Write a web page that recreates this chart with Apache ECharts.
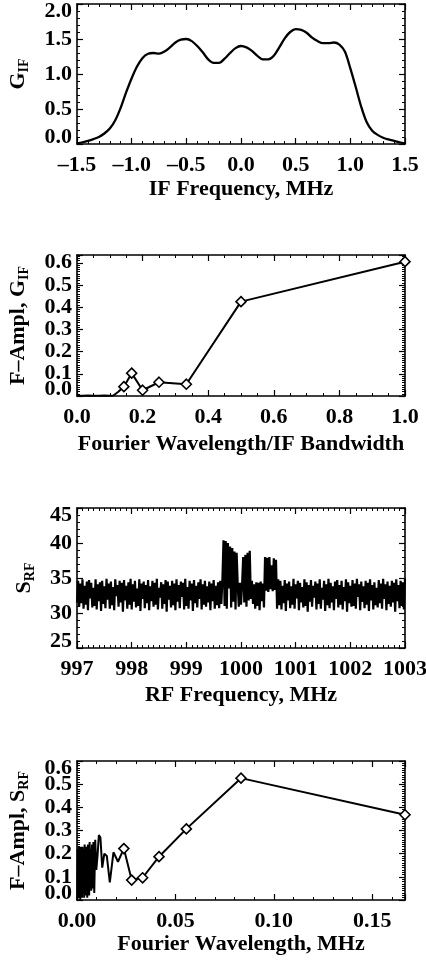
<!DOCTYPE html>
<html>
<head>
<meta charset="utf-8">
<script src="https://cdn.jsdelivr.net/npm/echarts@6/dist/echarts.min.js"></script>
<style>
html, body { margin: 0; padding: 0; background: #fff; }
#chart { width: 426px; height: 961px; }
</style>
</head>
<body>
<div id="chart"></div>
<script>
// panel 1 - IF gain, sampled every 0.05 MHz from -1.5
var ifStart = -1.5, ifStep = 0.05;
var ifGain = [
    0.01, 0.025, 0.045, 0.07, 0.10, 0.15, 0.22, 0.34, 0.52, 0.74,
    0.94, 1.11, 1.23, 1.29, 1.30, 1.29, 1.32, 1.38, 1.45, 1.49,
    1.50, 1.47, 1.40, 1.31, 1.21, 1.16, 1.16, 1.22, 1.30, 1.37,
    1.40, 1.38, 1.33, 1.26, 1.21, 1.21, 1.26, 1.38, 1.51, 1.60,
    1.64, 1.63, 1.59, 1.52, 1.47, 1.44, 1.44, 1.45, 1.42, 1.32,
    1.08, 0.81, 0.53, 0.31, 0.19, 0.13, 0.09, 0.065, 0.045, 0.025,
    0.01
];

// panel 2 - Fourier amplitude of G_IF (first points get diamonds)
var ifWave = [1, 0.5, 0.3333, 0.25, 0.2, 0.1667, 0.1429, 0.125, 0.1111, 0.1, 0.0833, 0.0667, 0.05, 0.0333, 0.0167, 0];
var ifAmp = [0.605, 0.425, 0.053, 0.062, 0.026, 0.103, 0.042, 0.018, 0.002, 0.001, 0.002, 0.001, 0.001, 0.002, 0.001, 0.001];
var ifMarked = 7;

// panel 3 - RF spectrum, sampled every 0.02 MHz from 997
var rfStart = 997, rfStep = 0.02;
var rfSpec = [
    31.5, 34.6, 30.9, 34.2, 31.4, 34.8, 30.6, 33.9, 31.2, 34.5,
    30.4, 34.7, 32.1, 34.3, 30.8, 33.6, 31.0, 34.8, 30.5, 34.1,
    31.7, 34.4, 30.3, 34.6, 31.3, 33.8, 30.7, 34.9, 31.9, 34.2,
    30.6, 34.5, 31.1, 33.7, 30.4, 34.8, 32.4, 34.0, 30.9, 34.6,
    31.5, 34.3, 30.2, 34.7, 31.8, 33.9, 30.6, 34.4, 31.2, 34.9,
    30.5, 34.1, 31.6, 34.6, 30.8, 33.5, 31.0, 34.8, 30.3, 34.2,
    32.0, 34.5, 30.7, 34.0, 31.4, 34.7, 30.4, 33.8, 31.7, 34.6,
    30.9, 34.3, 31.2, 34.9, 30.5, 33.6, 32.2, 34.4, 30.6, 34.1,
    31.3, 34.7, 30.2, 34.5, 31.9, 33.9, 30.8, 34.6, 31.1, 34.2,
    30.4, 34.8, 31.6, 34.0, 30.7, 34.5, 32.3, 34.3, 30.5, 34.9,
    31.0, 33.7, 30.6, 34.6, 31.8, 34.2, 30.3, 34.7, 31.4, 33.9,
    30.8, 34.4, 32.0, 34.8, 30.5, 34.1, 31.2, 34.6, 30.9, 33.8,
    31.5, 34.5, 30.4, 34.2, 31.7, 34.7, 30.6, 33.9, 31.1, 34.4,
    30.7, 34.6, 31.3, 34.8, 40.4, 31.0, 40.3, 30.6, 40.0, 33.5,
    39.5, 30.8, 39.3, 31.6, 38.8, 30.5, 38.6, 34.0, 30.9, 34.3,
    31.2, 34.1, 38.0, 31.5, 38.3, 30.9, 38.6, 31.8, 38.9, 32.0,
    34.6, 31.3, 34.1, 30.6, 34.4, 31.0, 34.3, 30.4, 34.5, 31.7,
    34.2, 30.8, 38.0, 33.2, 37.9, 33.0, 38.0, 33.4, 36.8, 33.1,
    37.8, 33.3, 37.6, 30.6, 34.8, 31.1, 34.6, 30.5, 33.9, 31.4,
    34.7, 30.3, 34.2, 31.8, 34.5, 30.7, 33.8, 31.2, 34.9, 30.6,
    34.1, 32.1, 34.6, 30.4, 34.3, 31.5, 33.7, 30.8, 34.8, 31.0,
    34.4, 30.2, 34.0, 31.6, 34.7, 30.9, 33.9, 32.2, 34.5, 30.5,
    34.2, 31.3, 34.8, 30.6, 33.6, 31.9, 34.6, 30.3, 34.1, 31.1,
    34.9, 30.7, 34.3, 31.5, 33.8, 30.4, 34.5, 32.0, 34.7, 30.8,
    34.0, 31.2, 34.6, 30.5, 33.7, 31.7, 34.8, 30.2, 34.4, 31.4,
    33.9, 30.9, 34.7, 31.0, 34.2, 30.6, 34.9, 32.3, 34.1, 30.4,
    34.5, 31.6, 33.8, 30.7, 34.6, 31.2, 34.3, 30.3, 34.8, 31.8,
    34.0, 30.5, 34.4, 31.1, 33.6, 30.8, 34.7, 31.4, 34.2, 30.6,
    34.9, 32.0, 34.1, 30.4, 34.5, 31.3, 33.9, 30.9, 34.6, 31.5,
    34.3, 30.2, 34.8, 31.7, 34.0, 30.7, 34.6, 31.0, 34.4, 30.5,
    34.9
];

// panel 4 - Fourier amplitude of S_RF (first points get diamonds)
var rfWave = [
    0.16667, 0.08333, 0.05556, 0.04167, 0.03333, 0.02778, 0.02381, 0.02083, 0.01852, 0.01667,
    0.01515, 0.01389, 0.01282, 0.01190, 0.01111, 0.01042, 0.00980, 0.00926, 0.00877, 0.00833,
    0.00794, 0.00758, 0.00725, 0.00694, 0.00667, 0.00641, 0.00617, 0.00595, 0.00575, 0.00556,
    0.00521, 0.00490, 0.00463, 0.00439, 0.00417, 0.00388, 0.00362, 0.00333, 0.00303, 0.00278,
    0.00253, 0.00231, 0.00208, 0.00185, 0.00167, 0.00139, 0.00111, 0.00083, 0.00056, 0.00033,
    0.00017
];
var rfAmp = [
    0.368, 0.526, 0.307, 0.187, 0.096, 0.086, 0.222, 0.165, 0.206, 0.076,
    0.19, 0.20, 0.14, 0.27, 0.28, 0.19, 0.13, 0.26, 0.03, 0.25,
    0.05, 0.24, 0.04, 0.22, 0.06, 0.25, 0.02, 0.21, 0.05, 0.24,
    0.01, 0.23, 0.03, 0.20, 0.02, 0.24, 0.01, 0.22, 0.03, 0.23,
    0.01, 0.21, 0.02, 0.23, 0.0, 0.22, 0.01, 0.23, 0.02, 0.22,
    0.0
];
var rfMarked = 7;

var font = { fontFamily: 'Liberation Serif', fontWeight: 'bold', fontSize: 22, color: '#000', lineHeight: 22 };
var rich = {
    m: { fontFamily: 'Liberation Serif', fontWeight: 'bold', fontSize: 22, color: '#000', lineHeight: 24, verticalAlign: 'top' },
    s: { fontFamily: 'Liberation Serif', fontWeight: 'bold', fontSize: 14, color: '#000', lineHeight: 16, verticalAlign: 'bottom', padding: [12, 0, 0, 0] }
};
// edge labels sit inside the frame, like the original plot
var edgeRich = {
    lo: Object.assign({}, font, { padding: [0, 0, 14, 0] }),
    hi: Object.assign({}, font, { padding: [14, 0, 0, 0] })
};

var grids = [
    { left: 77, width: 328, top: 4, height: 140 },
    { left: 77, width: 328, top: 255, height: 141 },
    { left: 77, width: 328, top: 508, height: 140 },
    { left: 77, width: 328, top: 761, height: 139 }
].map(function (g) {
    return Object.assign({ containLabel: false, outerBoundsMode: 'none' }, g);
});

var xAxes = [], yAxes = [];

function box() {
    return { show: true, onZero: false, lineStyle: { color: '#000', width: 1.6 } };
}

function ticks(minor) {
    return {
        axisLine: box(), splitLine: { show: false },
        axisTick: { inside: true, length: 6, lineStyle: { color: '#000', width: 1.2 } },
        minorTick: { show: true, splitNumber: minor, length: 3, lineStyle: { color: '#000', width: 1 } }
    };
}

function addX(g, min, max, step, minor, fmt, name, gap, hideMax) {
    var base = Object.assign({ type: 'value', gridIndex: g, min: min, max: max, interval: step }, ticks(minor));
    xAxes.push(Object.assign({}, base, {
        position: 'bottom', name: name, nameLocation: 'middle', nameGap: gap, nameTextStyle: font,
        axisLabel: Object.assign({ margin: 10, formatter: fmt, showMinLabel: true, showMaxLabel: !hideMax, hideOverlap: false }, font)
    }));
    xAxes.push(Object.assign({}, base, { position: 'top', axisLabel: { show: false } }));
}

function addY(g, min, max, step, minor, fmt, name, gap, edges) {
    var base = Object.assign({ type: 'value', gridIndex: g, min: min, max: max, interval: step }, ticks(minor));
    yAxes.push(Object.assign({}, base, {
        position: 'left', name: name, nameLocation: 'middle', nameGap: gap, nameRotate: 90,
        nameTextStyle: { rich: rich },
        axisLabel: Object.assign({ margin: 5, formatter: fmt, showMinLabel: false, showMaxLabel: false }, font)
    }));
    yAxes.push(Object.assign({}, base, { position: 'right', axisLabel: { show: false } }));
    // label-only axis for the end values
    yAxes.push({
        type: 'value', gridIndex: g, min: min, max: max, interval: step, position: 'left',
        axisLine: { show: false, onZero: false }, axisTick: { show: false }, splitLine: { show: false },
        axisLabel: {
            margin: 5, customValues: edges, rich: edgeRich,
            formatter: function (v) { return (v === min ? '{lo|' : '{hi|') + fmt(v) + '}'; }
        }
    });
}

function f1(v) { return v.toFixed(1).replace('-', '\u2013'); }
function f2(v) { return v.toFixed(2); }
function f0(v) { return v.toFixed(0); }

addX(0, -1.5, 1.5, 0.5, 5, f1, 'IF Frequency, MHz', 34);
addY(0, 0, 2, 0.5, 5, f1, '{m|G}{s|IF}', 46, [0, 2]);
addX(1, 0, 1, 0.2, 4, f1, 'Fourier Wavelength/IF Bandwidth', 37);
addY(1, 0, 0.635, 0.1, 10, f1, '{m|F\u2013Ampl, G}{s|IF}', 46, [0]);
addX(2, 997, 1003, 1, 10, f0, 'RF Frequency, MHz', 36);
addY(2, 25, 45, 5, 5, f0, '{m|S}{s|RF}', 40, [25, 45]);
addX(3, 0, 0.16667, 0.05, 5, f2, 'Fourier Wavelength, MHz', 28, true);
addY(3, 0, 0.6, 0.1, 10, f1, '{m|F\u2013Ampl, S}{s|RF}', 46, [0, 0.6]);

function pairs(xs, ys, count) {
    var out = [];
    var n = count || ys.length;
    for (var i = 0; i < n; i++) out.push([xs[i], ys[i]]);
    return out;
}

var ifGainData = ifGain.map(function (v, i) { return [ifStart + i * ifStep, v]; });
var rfSpecData = rfSpec.map(function (v, i) { return [rfStart + i * rfStep, v]; });

function lineSeries(g, data, w, smooth) {
    return {
        type: 'line', xAxisIndex: 2 * g, yAxisIndex: 3 * g, data: data,
        showSymbol: false, symbol: 'none', smooth: smooth || false,
        lineStyle: { color: '#000', width: w }, silent: true
    };
}

function diamonds(g, data) {
    return {
        type: 'scatter', xAxisIndex: 2 * g, yAxisIndex: 3 * g, data: data,
        symbol: 'diamond', symbolSize: 10, z: 5,
        itemStyle: { color: '#fff', borderColor: '#000', borderWidth: 1.6, opacity: 1 }, silent: true
    };
}

var chart = echarts.init(document.getElementById('chart'));
chart.setOption({
    animation: false,
    backgroundColor: '#fff',
    grid: grids,
    xAxis: xAxes,
    yAxis: yAxes,
    series: [
        lineSeries(0, ifGainData, 2.3, 0.3),
        lineSeries(1, pairs(ifWave, ifAmp), 2),
        diamonds(1, pairs(ifWave, ifAmp, ifMarked)),
        lineSeries(2, rfSpecData, 2.2),
        lineSeries(3, pairs(rfWave, rfAmp), 2),
        diamonds(3, pairs(rfWave, rfAmp, rfMarked))
    ]
});
</script>
</body>
</html>
